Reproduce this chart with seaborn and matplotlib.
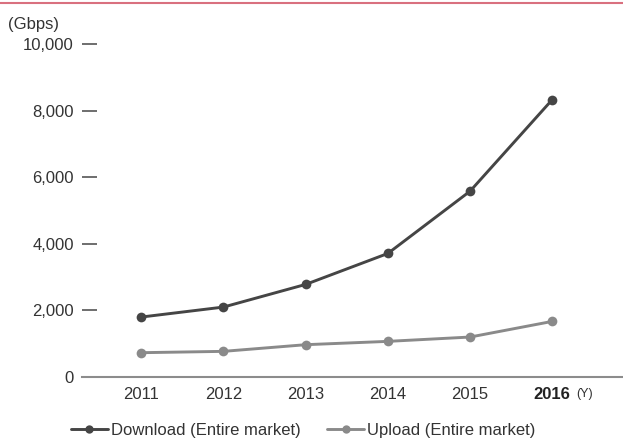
import matplotlib.pyplot as plt
import seaborn as sns
import pandas as pd

years = ["2011", "2012", "2013", "2014", "2015", "2016"]
download = [1800, 2100, 2780, 3710, 5580, 8330]
upload = [730, 770, 970, 1070, 1200, 1670]
series_names = ["Download (Entire market)", "Upload (Entire market)"]
y_ticks = [0, 2000, 4000, 6000, 8000, 10000]

sns.set_theme(style="white")
plt.rcParams['font.family'] = ['Liberation Sans', 'DejaVu Sans']

df = pd.DataFrame({
    "year": years * 2,
    "value": download + upload,
    "series": [series_names[0]] * len(years) + [series_names[1]] * len(years),
})

fig = plt.figure(figsize=(6.23, 4.47), dpi=100)
ax = fig.add_axes([82 / 623, 1 - 377 / 447, 1 - 82 / 623, (377 - 44) / 447])

palette = {series_names[0]: "#454545", series_names[1]: "#8a8a8a"}
sns.lineplot(data=df, x="year", y="value", hue="series", palette=palette,
             marker="o", markersize=7, markeredgewidth=0, linewidth=2.1,
             sort=False, ax=ax, legend=False)

ax.set_ylim(0, 10000)
ax.set_xlim(-0.72, 5.86)
ax.set_yticks(y_ticks)
ax.set_yticklabels([f"{v:,}" for v in y_ticks])
ax.set_xlabel("")
ax.set_ylabel("")

for s in ["left", "top", "right"]:
    ax.spines[s].set_visible(False)
ax.spines["bottom"].set_color("#8c8c8c")
ax.spines["bottom"].set_linewidth(1.5)

ax.tick_params(axis="y", left=True, direction="in", length=11, width=1.2,
               color="#555555", labelsize=12, labelcolor="#333333", pad=6)
ax.tick_params(axis="x", bottom=False, length=0, labelsize=12,
               labelcolor="#333333", pad=7)
ax.get_xticklabels()[-1].set_fontweight("bold")
ax.get_xticklabels()[-1].set_color("#222222")

ax.text(5.29, -510, "(Y)", fontsize=9, color="#333333", va="center", ha="left")

fig.text(8 / 623, 1 - 25 / 447, "(Gbps)", fontsize=12, color="#333333", va="center")
fig.add_artist(plt.Line2D([0, 1], [1 - 3 / 447, 1 - 3 / 447], color="#d9707f",
                          linewidth=1.5, transform=fig.transFigure))

handles = [plt.Line2D([], [], color=palette[n], marker="o", markersize=6,
                      markeredgewidth=0, linewidth=2.1) for n in series_names]
fig.legend(handles, series_names, loc="center", bbox_to_anchor=(0.487, 1 - 430 / 447),
           ncol=2, frameon=False, fontsize=12, handlelength=2.2, handletextpad=0.2,
           columnspacing=1.6, labelcolor="#333333")

fig.savefig("out.png", dpi=100)
